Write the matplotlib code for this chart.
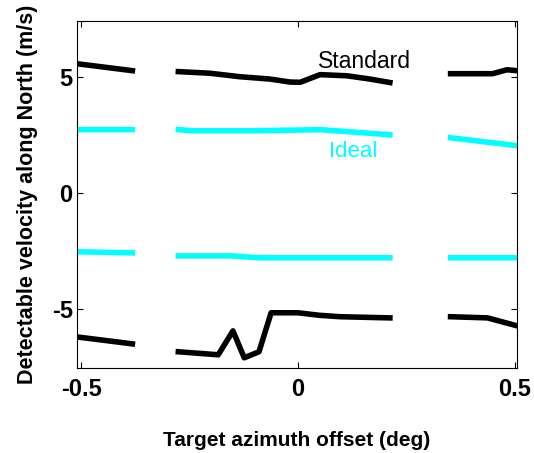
import numpy as np
import matplotlib
matplotlib.use('Agg')
import matplotlib.pyplot as plt

nan = np.nan

# azimuth offset (deg); NaN marks the gaps
std_up_x = [-0.51, -0.45, -0.382, nan, -0.276, -0.203, -0.134, -0.065, -0.018, 0.005, 0.051, 0.113, 0.166, 0.212,
            nan, 0.352, 0.449, 0.482, 0.505]
std_up_y = [5.56, 5.42, 5.26, nan, 5.22, 5.15, 5.0, 4.9, 4.77, 4.76, 5.09, 5.04, 4.9, 4.75,
            nan, 5.13, 5.13, 5.3, 5.26]

std_lo_x = [-0.51, -0.45, -0.382, nan, -0.276, -0.184, -0.150, -0.124, -0.090, -0.062, 0.0, 0.05, 0.097, 0.212,
            nan, 0.352, 0.437, 0.505]
std_lo_y = [-6.21, -6.35, -6.51, nan, -6.85, -6.98, -5.95, -7.11, -6.85, -5.17, -5.17, -5.28, -5.34, -5.39,
            nan, -5.34, -5.39, -5.73]

ideal_up_x = [-0.51, -0.382, nan, -0.276, -0.24, -0.1, 0.051, 0.212, nan, 0.352, 0.505]
ideal_up_y = [2.72, 2.72, nan, 2.72, 2.67, 2.67, 2.72, 2.5, nan, 2.37, 2.03]

ideal_lo_x = [-0.51, -0.382, nan, -0.276, -0.15, -0.09, 0.212, nan, 0.352, 0.505]
ideal_lo_y = [-2.54, -2.59, nan, -2.72, -2.72, -2.8, -2.8, nan, -2.8, -2.8]

plt.rcParams['font.family'] = ['Liberation Sans', 'DejaVu Sans']
plt.rcParams['axes.unicode_minus'] = False

fig = plt.figure(figsize=(5.34, 4.53), dpi=100)
ax = fig.add_axes([0.144, 0.1876, 0.824, 0.766])

ax.plot(std_up_x, std_up_y, color='black', lw=4)
ax.plot(std_lo_x, std_lo_y, color='black', lw=4)
ax.plot(ideal_up_x, ideal_up_y, color='cyan', lw=4)
ax.plot(ideal_lo_x, ideal_lo_y, color='cyan', lw=4)

ax.text(0.154, 5.65, 'Standard', color='black', fontsize=16.5, ha='center', va='center')
ax.text(0.127, 1.77, 'Ideal', color='cyan', fontsize=16, ha='center', va='center')

ax.set_xlim(-0.51, 0.505)
ax.set_ylim(-7.55, 7.4)
ax.set_xticks([-0.5, 0, 0.5])
ax.set_xticklabels(['-0.5', '0', '0.5'])
ax.set_yticks([-5, 0, 5])
ax.set_yticklabels(['-5', '0', '5'])
ax.tick_params(direction='in', length=4, width=0.8, top=True, right=True, labelsize=17)
ax.tick_params(axis='x', pad=7)
ax.tick_params(axis='y', pad=3)
for lab in ax.get_xticklabels() + ax.get_yticklabels():
    lab.set_fontweight('bold')

ax.set_xlabel('Target azimuth offset (deg)', fontsize=15, fontweight='bold', labelpad=22)
ax.set_ylabel('Detectable velocity along North (m/s)', fontsize=15.5, fontweight='bold', labelpad=10)

fig.savefig('out.png', dpi=100)
